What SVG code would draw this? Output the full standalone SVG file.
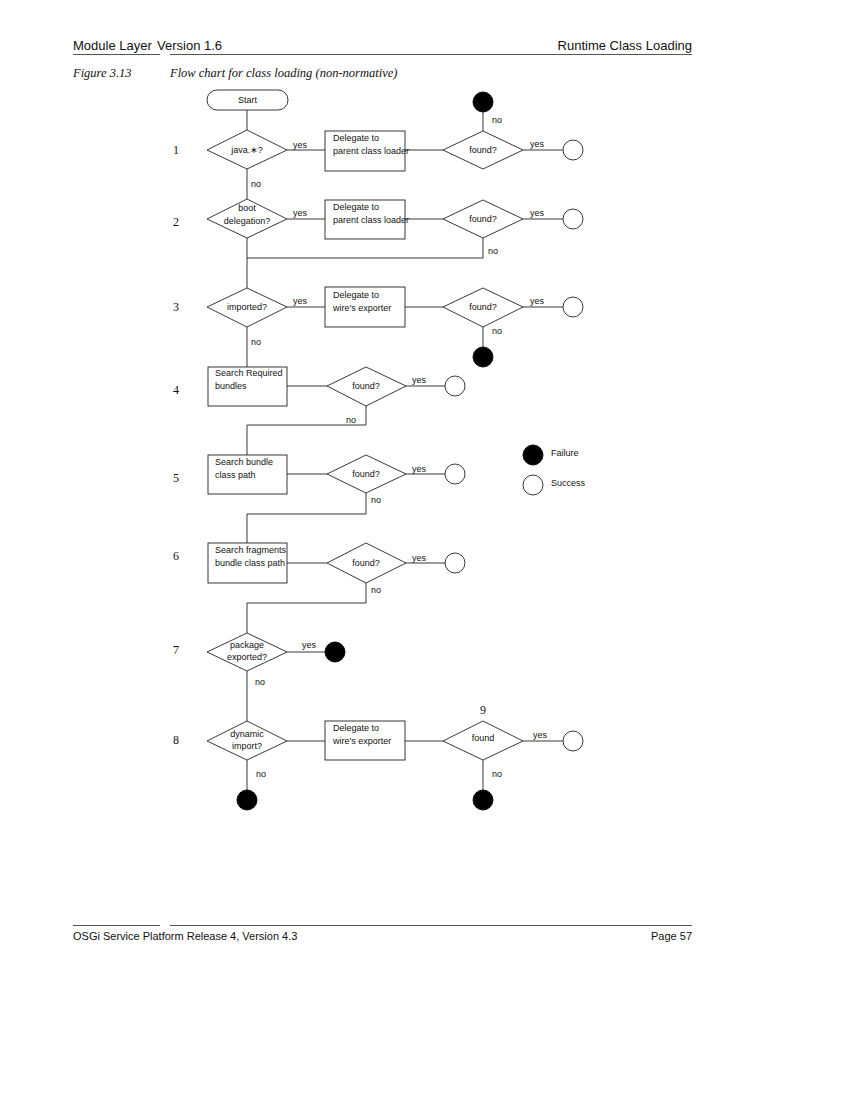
<svg xmlns="http://www.w3.org/2000/svg" width="849" height="1099" viewBox="0 0 849 1099">
  <style>
    .bg { fill: #ffffff; }
    .rule { stroke: #555; stroke-width: 1; fill: none; }
    .head { font-family: "Liberation Sans", "DejaVu Sans", sans-serif; font-size: 13px; fill: #111; }
    .foot { font-family: "Liberation Sans", "DejaVu Sans", sans-serif; font-size: 11px; fill: #111; }
    .cap { font-family: "Liberation Serif", "DejaVu Serif", serif; font-style: italic; font-size: 12.5px; fill: #111; }
    .num { font-family: "Liberation Serif", "DejaVu Serif", serif; font-size: 12px; fill: #111; }
    .shape { fill: #ffffff; stroke: #222; stroke-width: 0.9; }
    .fail { fill: #000000; stroke: #000; stroke-width: 0.9; }
    .ok { fill: #ffffff; stroke: #222; stroke-width: 0.9; }
    .t { font-family: "Liberation Sans", "DejaVu Sans", sans-serif; font-size: 9px; fill: #111; }
    .c { text-anchor: middle; }
    .wire { stroke: #222; stroke-width: 0.9; fill: none; }
  </style>
  <rect class="bg" x="0" y="0" width="849" height="1099"/>

  <!-- page header -->
  <g id="header">
    <text class="head" x="73" y="50">Module Layer</text>
    <text class="head" x="157" y="50">Version 1.6</text>
    <text class="head" x="692" y="50" text-anchor="end">Runtime Class Loading</text>
    <line class="rule" x1="73" y1="54.5" x2="160" y2="54.5"/>
    <line class="rule" x1="170" y1="54.5" x2="692" y2="54.5"/>
    <text class="cap" x="73" y="77">Figure 3.13</text>
    <text class="cap" x="170" y="77">Flow chart for class loading (non-normative)</text>
  </g>

  <!-- row numbers -->
  <g id="row-numbers">
    <text class="num" x="173" y="154">1</text>
    <text class="num" x="173" y="226">2</text>
    <text class="num" x="173" y="311">3</text>
    <text class="num" x="173" y="394">4</text>
    <text class="num" x="173" y="482">5</text>
    <text class="num" x="173" y="560">6</text>
    <text class="num" x="173" y="654">7</text>
    <text class="num" x="173" y="744">8</text>
    <text class="num" x="483" y="714" text-anchor="middle">9</text>
  </g>

  <!-- connectors -->
  <g id="connectors">
    <path class="wire" d="M247 110 V130"/>
    <path class="wire" d="M287 150 H325"/>
    <path class="wire" d="M405 150 H443"/>
    <path class="wire" d="M483 131 V112"/>
    <path class="wire" d="M523 150 H563"/>
    <path class="wire" d="M247 169 V199"/>
    <path class="wire" d="M287 219 H325"/>
    <path class="wire" d="M405 219 H443"/>
    <path class="wire" d="M523 219 H563"/>
    <path class="wire" d="M483 238 V258 H247"/>
    <path class="wire" d="M247 238 V288"/>
    <path class="wire" d="M287 307 H325"/>
    <path class="wire" d="M405 307 H443"/>
    <path class="wire" d="M523 307 H563"/>
    <path class="wire" d="M483 327 V347"/>
    <path class="wire" d="M247 327 V367"/>
    <path class="wire" d="M287 386 H327"/>
    <path class="wire" d="M406 386 H445"/>
    <path class="wire" d="M366 406 V425 H247 V455"/>
    <path class="wire" d="M287 474 H327"/>
    <path class="wire" d="M406 474 H445"/>
    <path class="wire" d="M366 493 V514 H247 V543"/>
    <path class="wire" d="M287 563 H327"/>
    <path class="wire" d="M406 563 H445"/>
    <path class="wire" d="M366 583 V603 H247 V633"/>
    <path class="wire" d="M287 652 H325"/>
    <path class="wire" d="M247 671 V721"/>
    <path class="wire" d="M287 741 H325"/>
    <path class="wire" d="M405 741 H443"/>
    <path class="wire" d="M523 741 H563"/>
    <path class="wire" d="M247 760 V790"/>
    <path class="wire" d="M483 760 V790"/>

    <text class="t" x="293" y="148">yes</text>
    <text class="t" x="530" y="147">yes</text>
    <text class="t" x="492" y="123">no</text>
    <text class="t" x="251" y="187">no</text>
    <text class="t" x="293" y="216">yes</text>
    <text class="t" x="530" y="216">yes</text>
    <text class="t" x="488" y="254">no</text>
    <text class="t" x="293" y="304">yes</text>
    <text class="t" x="530" y="304">yes</text>
    <text class="t" x="492" y="334">no</text>
    <text class="t" x="251" y="345">no</text>
    <text class="t" x="412" y="383">yes</text>
    <text class="t" x="346" y="423">no</text>
    <text class="t" x="412" y="472">yes</text>
    <text class="t" x="371" y="503">no</text>
    <text class="t" x="412" y="561">yes</text>
    <text class="t" x="371" y="593">no</text>
    <text class="t" x="302" y="648">yes</text>
    <text class="t" x="255" y="685">no</text>
    <text class="t" x="533" y="738">yes</text>
    <text class="t" x="256" y="777">no</text>
    <text class="t" x="492" y="777">no</text>
  </g>

  <!-- start -->
  <g id="start">
    <rect class="shape" x="207" y="90" width="81" height="20" rx="10" ry="10"/>
    <text class="t c" x="247.5" y="103">Start</text>
  </g>

  <!-- step 1 -->
  <g id="java-check">
    <polygon class="shape" points="207,150 247,130 287,150 247,169"/>
    <text class="t c" x="247" y="153">java.∗?</text>
  </g>
  <g id="delegate-parent-1">
    <rect class="shape" x="325" y="131" width="80" height="40"/>
    <text class="t" x="333" y="141">Delegate to</text>
    <text class="t" x="333" y="154">parent class loader</text>
  </g>
  <g id="found-1">
    <polygon class="shape" points="443,150 483,131 523,150 483,169"/>
    <text class="t c" x="483" y="153">found?</text>
  </g>
  <g id="fail-1"><circle class="fail" cx="483" cy="102" r="10"/></g>
  <g id="ok-1"><circle class="ok" cx="573" cy="150" r="10"/></g>

  <!-- step 2 -->
  <g id="boot-delegation">
    <polygon class="shape" points="207,219 247,199 287,219 247,238"/>
    <text class="t c" x="247" y="211">boot</text>
    <text class="t c" x="247" y="224">delegation?</text>
  </g>
  <g id="delegate-parent-2">
    <rect class="shape" x="325" y="200" width="80" height="39"/>
    <text class="t" x="333" y="210">Delegate to</text>
    <text class="t" x="333" y="223">parent class loader</text>
  </g>
  <g id="found-2">
    <polygon class="shape" points="443,219 483,200 523,219 483,238"/>
    <text class="t c" x="483" y="222">found?</text>
  </g>
  <g id="ok-2"><circle class="ok" cx="573" cy="219" r="10"/></g>

  <!-- step 3 -->
  <g id="imported">
    <polygon class="shape" points="207,307 247,288 287,307 247,327"/>
    <text class="t c" x="247" y="310">imported?</text>
  </g>
  <g id="delegate-wire-3">
    <rect class="shape" x="325" y="287" width="80" height="40"/>
    <text class="t" x="333" y="298">Delegate to</text>
    <text class="t" x="333" y="311">wire’s exporter</text>
  </g>
  <g id="found-3">
    <polygon class="shape" points="443,307 483,288 523,307 483,327"/>
    <text class="t c" x="483" y="310">found?</text>
  </g>
  <g id="ok-3"><circle class="ok" cx="573" cy="307" r="10"/></g>
  <g id="fail-3"><circle class="fail" cx="483" cy="357" r="10"/></g>

  <!-- step 4 -->
  <g id="search-required">
    <rect class="shape" x="208" y="367" width="79" height="39"/>
    <text class="t" x="215" y="376">Search Required</text>
    <text class="t" x="215" y="389">bundles</text>
  </g>
  <g id="found-4">
    <polygon class="shape" points="327,386 366,367 406,386 366,406"/>
    <text class="t c" x="366" y="389">found?</text>
  </g>
  <g id="ok-4"><circle class="ok" cx="455" cy="386" r="10"/></g>

  <!-- step 5 -->
  <g id="search-classpath">
    <rect class="shape" x="208" y="455" width="79" height="39"/>
    <text class="t" x="215" y="465">Search bundle</text>
    <text class="t" x="215" y="478">class path</text>
  </g>
  <g id="found-5">
    <polygon class="shape" points="327,474 366,455 406,474 366,493"/>
    <text class="t c" x="366" y="477">found?</text>
  </g>
  <g id="ok-5"><circle class="ok" cx="455" cy="474" r="10"/></g>

  <!-- step 6 -->
  <g id="search-fragments">
    <rect class="shape" x="208" y="543" width="79" height="40"/>
    <text class="t" x="215" y="553">Search fragments</text>
    <text class="t" x="215" y="566">bundle class path</text>
  </g>
  <g id="found-6">
    <polygon class="shape" points="327,563 366,543 406,563 366,583"/>
    <text class="t c" x="366" y="566">found?</text>
  </g>
  <g id="ok-6"><circle class="ok" cx="455" cy="563" r="10"/></g>

  <!-- step 7 -->
  <g id="package-exported">
    <polygon class="shape" points="207,652 247,633 287,652 247,671"/>
    <text class="t c" x="247" y="648">package</text>
    <text class="t c" x="247" y="660">exported?</text>
  </g>
  <g id="fail-7"><circle class="fail" cx="335" cy="652" r="10"/></g>

  <!-- step 8 -->
  <g id="dynamic-import">
    <polygon class="shape" points="207,741 247,721 287,741 247,760"/>
    <text class="t c" x="247" y="737">dynamic</text>
    <text class="t c" x="247" y="749">import?</text>
  </g>
  <g id="delegate-wire-8">
    <rect class="shape" x="325" y="721" width="80" height="39"/>
    <text class="t" x="333" y="731">Delegate to</text>
    <text class="t" x="333" y="744">wire’s exporter</text>
  </g>
  <g id="found-9">
    <polygon class="shape" points="443,741 483,721 523,741 483,760"/>
    <text class="t c" x="483" y="741">found</text>
  </g>
  <g id="ok-9"><circle class="ok" cx="573" cy="741" r="10"/></g>
  <g id="fail-8"><circle class="fail" cx="247" cy="800" r="10"/></g>
  <g id="fail-9"><circle class="fail" cx="483" cy="800" r="10"/></g>

  <!-- legend -->
  <g id="legend">
    <circle class="fail" cx="533" cy="455" r="10"/>
    <text class="t" x="551" y="456">Failure</text>
    <circle class="ok" cx="533" cy="485" r="10"/>
    <text class="t" x="551" y="486">Success</text>
  </g>

  <!-- page footer -->
  <g id="footer">
    <line class="rule" x1="73" y1="925.5" x2="160" y2="925.5"/>
    <line class="rule" x1="170" y1="925.5" x2="692" y2="925.5"/>
    <text class="foot" x="73" y="940">OSGi Service Platform Release 4, Version 4.3</text>
    <text class="foot" x="692" y="940" text-anchor="end">Page 57</text>
  </g>
</svg>
